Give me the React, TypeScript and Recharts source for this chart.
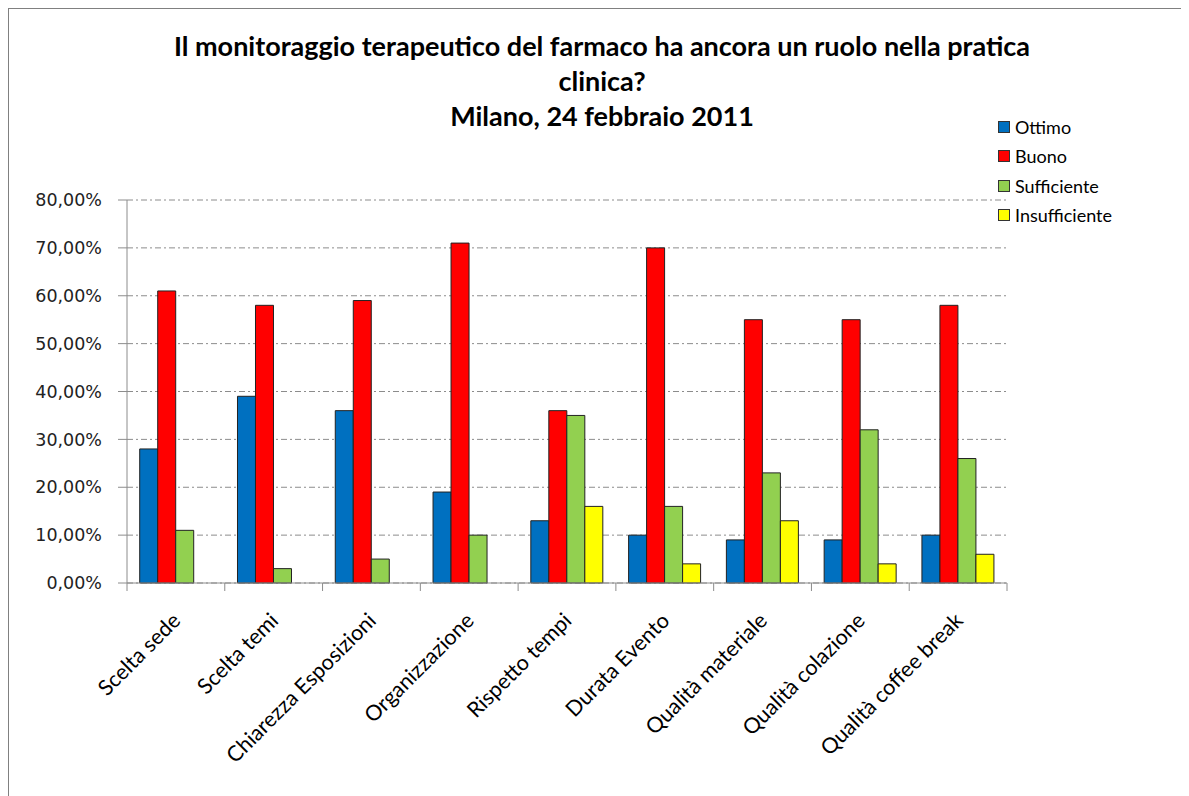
import React from "react";
import { BarChart, Bar, XAxis, YAxis, CartesianGrid } from "recharts";

// categorie e valori (percentuali)
const categories = [
  "Scelta sede",
  "Scelta temi",
  "Chiarezza Esposizioni",
  "Organizzazione",
  "Rispetto tempi",
  "Durata Evento",
  "Qualità materiale",
  "Qualità colazione",
  "Qualità coffee break",
];
const ottimo = [28, 39, 36, 19, 13, 10, 9, 9, 10];
const buono = [61, 58, 59, 71, 36, 70, 55, 55, 58];
const sufficiente = [11, 3, 5, 10, 35, 16, 23, 32, 26];
const insufficiente = [null, null, null, null, 16, 4, 13, 4, 6];
const yTicks = [0, 10, 20, 30, 40, 50, 60, 70, 80];

const seriesNames = ["Ottimo", "Buono", "Sufficiente", "Insufficiente"];
const seriesColors = ["#0070C0", "#FF0000", "#92D050", "#FFFF00"];

const data = categories.map((name, i) => ({
  name,
  Ottimo: ottimo[i],
  Buono: buono[i],
  Sufficiente: sufficiente[i],
  Insufficiente: insufficiente[i],
}));

const labelFont = "Lato, 'Open Sans', sans-serif";
const axisGray = "#8c8c8c";

const formatPct = (v: number) => v.toFixed(2).replace(".", ",") + "%";

const CategoryTick = (props: any) => {
  const { x, y, payload, index, visibleTicksCount } = props;
  const off = payload && payload.offset ? payload.offset : 880 / 18;
  const last = index === (visibleTicksCount ?? categories.length) - 1;
  const ax = x + 6;
  const ay = y + 39;
  return (
    <g>
      <line x1={x - off} y1={y} x2={x - off} y2={y + 8} stroke={axisGray} />
      {last && (
        <line x1={x + off} y1={y} x2={x + off} y2={y + 8} stroke={axisGray} />
      )}
      <text
        x={ax}
        y={ay}
        textAnchor="end"
        transform={`rotate(-45 ${ax} ${ay})`}
        fill="#000"
        fontSize={21.5}
        fontFamily={labelFont}
      >
        {payload.value}
      </text>
    </g>
  );
};

// legenda disegnata a parte, così non toglie spazio all'area del grafico
const LegendBox = () => (
  <div
    style={{
      position: "absolute",
      left: 998,
      top: 112,
      fontFamily: labelFont,
      fontSize: 18,
      color: "#000",
    }}
  >
    {seriesNames.map((n, i) => (
      <div
        key={n}
        style={{ display: "flex", alignItems: "center", height: 29.5 }}
      >
        <span
          style={{
            display: "inline-block",
            width: 10,
            height: 10,
            background: seriesColors[i],
            border: "1px solid #333",
            marginRight: 5,
          }}
        />
        <span>{n}</span>
      </div>
    ))}
  </div>
);

const App = () => {
  return (
    <div
      style={{
        position: "relative",
        left: -8,
        top: -8,
        width: 1189,
        height: 796,
        background: "#fff",
      }}
    >
      <div
        style={{
          position: "absolute",
          left: 7,
          top: 7,
          width: 1182,
          height: 789,
          borderTop: "2px solid #808080",
          borderLeft: "2px solid #808080",
        }}
      />
      <div
        style={{
          position: "absolute",
          left: 102,
          width: 1000,
          top: 28,
          textAlign: "center",
          fontFamily: labelFont,
          fontWeight: 700,
          fontSize: 27,
          lineHeight: "35px",
          color: "#000",
        }}
      >
        <div>Il monitoraggio terapeutico del farmaco ha ancora un ruolo nella pratica</div>
        <div>clinica?</div>
        <div>Milano, 24 febbraio 2011</div>
      </div>
      <div style={{ position: "absolute", left: 0, top: 0 }}>
        <BarChart
          width={1189}
          height={796}
          data={data}
          margin={{ top: 200, right: 182, left: 0, bottom: 63 }}
          barCategoryGap="13%"
          barGap={0}
        >
          <CartesianGrid
            vertical={false}
            stroke={axisGray}
            strokeDasharray="6 3 2 3"
          />
          <XAxis
            dataKey="name"
            interval={0}
            height={150}
            tickLine={false}
            tickSize={0}
            tickMargin={0}
            axisLine={{ stroke: axisGray }}
            tick={<CategoryTick />}
          />
          <YAxis
            width={127}
            domain={[0, 80]}
            ticks={yTicks}
            tickFormatter={formatPct}
            axisLine={{ stroke: axisGray }}
            tickLine={{ stroke: axisGray }}
            tickSize={9}
            tickMargin={16}
            tick={{
              fill: "#222",
              fontSize: 17.5,
              fontFamily: "'DejaVu Sans', sans-serif",
            }}
          />
          {seriesNames.map((n, i) => (
            <Bar
              key={n}
              dataKey={n}
              fill={seriesColors[i]}
              stroke="#222"
              strokeWidth={1}
              isAnimationActive={false}
            />
          ))}
        </BarChart>
      </div>
      <LegendBox />
    </div>
  );
};

export default App;
